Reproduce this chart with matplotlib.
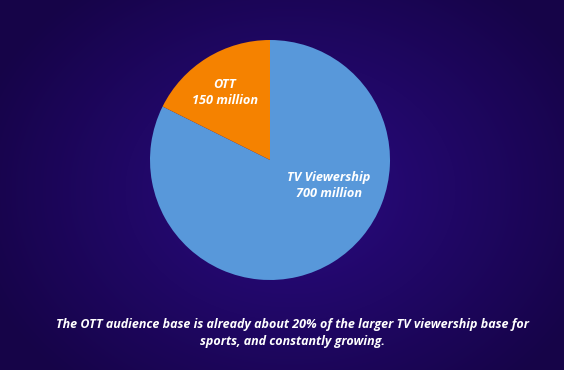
import numpy as np
import matplotlib.pyplot as plt

segmentos = ["TV Viewership", "OTT"]
valores = [700, 150]
rotulos = ["TV Viewership\n700 million", "OTT\n150 million"]
cores = ["#5898da", "#f58200"]
legenda = ("The OTT audience base is already about 20% of the larger TV viewership base for\n"
           "sports, and constantly growing.")

fig = plt.figure(figsize=(5.64, 3.70), dpi=100)

# fundo com gradiente radial
fundo = fig.add_axes([0, 0, 1, 1])
yy, xx = np.mgrid[0:370, 0:564]
d = np.sqrt(((xx - 290) / 330.0) ** 2 + ((yy - 190) / 260.0) ** 2)
d = np.clip(d, 0, 1)
centro = np.array([0x2a, 0x0a, 0x82]) / 255.0
borda = np.array([0x16, 0x04, 0x48]) / 255.0
img = centro[None, None, :] * (1 - d[..., None]) + borda[None, None, :] * d[..., None]
fundo.imshow(img, aspect="auto", extent=[0, 564, 370, 0])
fundo.axis("off")

ax = fig.add_axes([150 / 564, 90 / 370, 240 / 564, 240 / 370])
fatias, _ = ax.pie(valores, colors=cores, startangle=90 + 360 * valores[1] / sum(valores),
                   counterclock=True, radius=1.0)
ax.set_xlim(-1, 1)
ax.set_ylim(-1, 1)
ax.set_aspect("equal")

fonte = dict(family="Open Sans", weight="bold", style="italic", color="white")
ax.text(0.49, -0.21, rotulos[0], ha="center", va="center", fontsize=9.2,
        linespacing=1.3, **fonte)
ax.text(-0.375, 0.56, rotulos[1], ha="center", va="center", fontsize=9.2,
        linespacing=1.3, **fonte)

fig.text(292 / 564, 1 - 333 / 370, legenda, ha="center", va="center", fontsize=9.0,
         linespacing=1.35, **fonte)

fig.savefig("out.png", dpi=100)
